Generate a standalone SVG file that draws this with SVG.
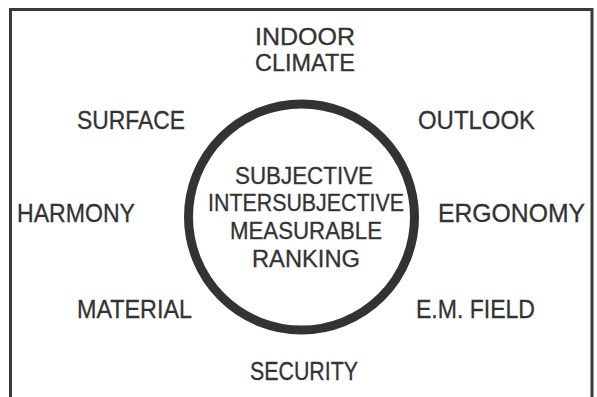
<svg xmlns="http://www.w3.org/2000/svg" width="597" height="397" viewBox="0 0 597 397">
<style>
text{font-family:"Liberation Sans",Arial,sans-serif;font-size:25px;fill:#333;stroke:#333;stroke-width:0.3;}
.tight{font-size:23px;}
.frame{fill:none;stroke:#3a3a3a;stroke-width:3;}
.ring{fill:none;stroke:#333;stroke-width:9;}
</style>
<rect width="597" height="397" fill="#fff"/>
<path class="frame" d="M10.5,397 V9.5 H592 V397"/>
<g id="connectors"></g>
<g id="center">
<circle class="ring" cx="301.5" cy="217" r="113"/>
<text class="tight" x="235" y="184" textLength="138" lengthAdjust="spacingAndGlyphs">SUBJECTIVE</text>
<text class="tight" x="208" y="211" textLength="196" lengthAdjust="spacingAndGlyphs">INTERSUBJECTIVE</text>
<text class="tight" x="230" y="239" textLength="152" lengthAdjust="spacingAndGlyphs">MEASURABLE</text>
<text class="tight" x="252" y="267" textLength="108" lengthAdjust="spacingAndGlyphs">RANKING</text>
</g>
<g id="indoor-climate">
<text class="tight" x="255" y="45" textLength="100" lengthAdjust="spacingAndGlyphs">INDOOR</text>
<text class="tight" x="255" y="71" textLength="100" lengthAdjust="spacingAndGlyphs">CLIMATE</text>
</g>
<g id="surface"><text x="77" y="129" textLength="108" lengthAdjust="spacingAndGlyphs">SURFACE</text></g>
<g id="outlook"><text x="418" y="129" textLength="117" lengthAdjust="spacingAndGlyphs">OUTLOOK</text></g>
<g id="harmony"><text x="17" y="222" textLength="118" lengthAdjust="spacingAndGlyphs">HARMONY</text></g>
<g id="ergonomy"><text x="438" y="222" textLength="147" lengthAdjust="spacingAndGlyphs">ERGONOMY</text></g>
<g id="material"><text x="77" y="318" textLength="115" lengthAdjust="spacingAndGlyphs">MATERIAL</text></g>
<g id="em-field"><text x="416" y="318" textLength="119" lengthAdjust="spacingAndGlyphs">E.M. FIELD</text></g>
<g id="security"><text x="250" y="380" textLength="108" lengthAdjust="spacingAndGlyphs">SECURITY</text></g>
</svg>
